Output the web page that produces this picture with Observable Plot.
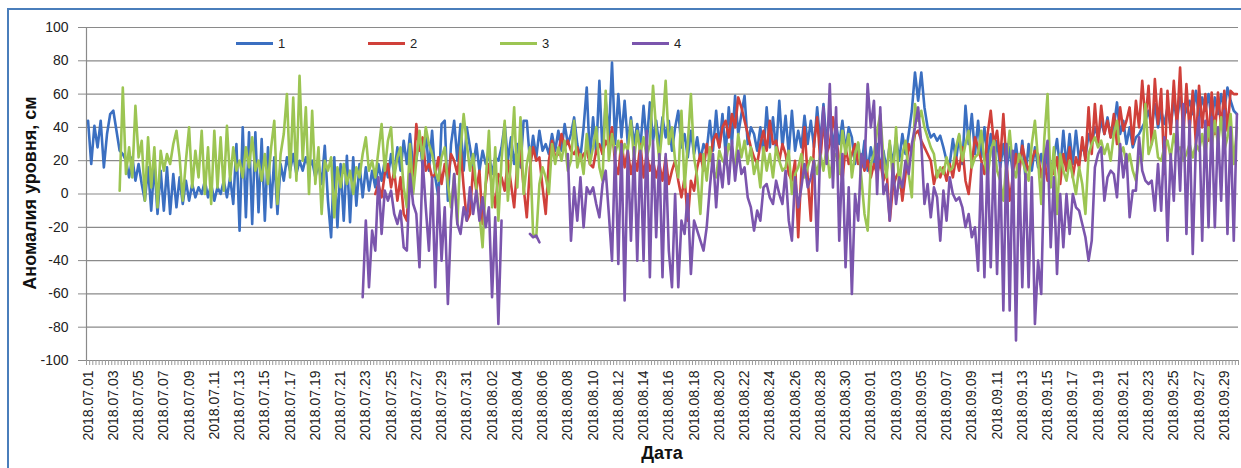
<!DOCTYPE html>
<html>
<head>
<meta charset="utf-8">
<script src="https://cdn.jsdelivr.net/npm/d3@7"></script>
<script src="https://cdn.jsdelivr.net/npm/@observablehq/plot@0.6"></script>
<style>
  html, body { margin: 0; padding: 0; background: #fff; }
  #wrap { position: relative; width: 1241px; height: 468px; overflow: hidden; font-family: "Liberation Sans", Arial, sans-serif; background: #fff; }
  #wrap svg { position: absolute; left: 0; top: 0; }
  #frame { position: absolute; left: 7px; top: 8px; width: 1260px; height: 480px; border: 2px solid #4a7ebb; box-sizing: border-box; pointer-events: none; }
  #legend { position: absolute; left: 236px; top: 35px; display: flex; }
  .item { width: 132px; display: flex; align-items: center; height: 16px; }
  .swatch { width: 37px; height: 3px; margin-right: 5px; }
  .lab { font-size: 13px; color: #222; }
  #ytitle { position: absolute; left: 30px; top: 193px; transform: translate(-50%, -50%) rotate(-90deg); font-weight: bold; font-size: 18px; white-space: nowrap; color: #111; }
  #xtitle { position: absolute; left: 662px; top: 444px; transform: translateX(-50%); font-weight: bold; font-size: 18px; line-height: 1; color: #111; }
</style>
</head>
<body>
<div id="wrap">
  <div id="chart"></div>
  <div id="legend"></div>
  <div id="ytitle">Аномалия уровня, см</div>
  <div id="xtitle">Дата</div>
  <div id="frame"></div>
</div>
<script>
// ---- data (6-hourly anomalies, cm) ----
const seriesNames = ["1", "2", "3", "4"];
const seriesColors = ["#3b6fc1", "#d0403a", "#9cc553", "#7b55ad"];
const stepHours = 6;
const start1 = "2018-07-01T00:00Z";
const start2 = "2018-07-23T18:00Z";
const start3 = "2018-07-03T12:00Z";
const start4 = "2018-07-22T18:00Z";

const s1 = [
44,18,41,28,44,16,36,48,50,38,
26,24,20,10,22,8,18,6,-4,16,
-10,18,-12,14,-10,16,-12,12,-8,10,
-6,8,-4,6,-2,4,0,8,-2,6,
-4,4,0,8,-2,10,-6,30,-22,40,
-14,37,-18,37,-11,33,-16,28,-8,22,
-12,18,8,22,14,24,12,20,14,22,
16,20,10,18,6,29,-4,-26,22,-20,
18,-16,23,-17,22,-7,18,-2,16,2,
14,4,18,8,20,10,24,12,28,14,
32,18,36,16,20,36,16,38,14,38,
10,-2,42,44,-4,30,44,20,42,14,
40,28,16,30,14,26,18,24,12,22,
20,28,42,20,34,18,30,16,44,44,
20,35,22,38,26,30,24,36,26,38,
26,42,30,36,46,30,22,40,64,20,
46,24,68,24,56,34,79,30,60,34,
56,30,46,30,42,28,53,30,55,32,
44,28,46,34,44,26,40,50,28,36,
22,38,24,34,20,30,26,44,26,50,
28,48,24,52,30,59,36,48,59,30,
40,36,26,40,24,52,28,46,26,56,
28,47,24,50,26,38,28,47,30,44,
28,52,30,54,30,50,28,42,30,44,
26,40,34,18,30,16,32,14,28,18,
30,16,26,14,30,18,34,20,36,24,
36,50,73,56,73,52,40,34,36,32,
35,28,20,18,33,20,35,18,53,30,
48,24,44,22,40,20,36,18,32,16,
30,14,28,12,30,14,32,10,30,14,
28,16,24,12,28,14,22,33,14,38,
16,36,18,38,20,30,22,36,30,40,
34,44,36,46,34,40,55,36,44,30,
40,28,34,36,40,44,50,40,54,40,
50,42,52,40,56,44,58,46,50,56,
48,62,46,58,50,60,44,58,48,60,
50,64,56,50,48
];

const s2 = [
0,6,-2,12,18,4,14,-4,10,-12,
-16,20,8,42,26,34,14,18,10,12,
22,6,18,8,24,20,12,28,4,-16,
-12,16,2,14,-18,6,18,4,-8,12,
10,2,20,6,-8,18,26,4,-14,16,
28,20,22,4,-12,20,32,22,24,36,
28,32,26,24,28,20,24,26,18,16,
26,30,24,32,28,40,18,12,32,16,
26,12,22,14,30,10,24,14,20,10,
18,8,22,6,14,20,8,-2,10,-16,
8,2,16,24,14,30,20,32,36,28,
40,44,34,48,40,58,52,44,36,28,
22,18,30,38,26,44,30,32,20,30,
24,12,8,20,-26,14,40,10,-16,30,
46,20,44,24,30,46,34,20,8,28,
18,24,30,18,22,14,20,10,18,12,
20,8,14,-16,4,10,14,-4,12,30,
24,36,38,32,28,24,20,6,14,10,
16,8,18,10,22,14,28,8,0,18,
34,28,20,12,36,50,30,38,20,48,
18,-4,10,24,12,29,20,14,20,26,
24,10,20,8,18,12,22,6,24,14,
28,10,22,16,34,20,52,24,54,30,
53,36,44,34,48,30,52,38,44,52,
30,56,40,68,44,65,30,69,42,63,
12,62,36,68,40,76,34,66,38,62,
30,65,40,60,32,61,36,61,40,62,
38,62,60,60
];

const s3 = [
2,64,12,28,10,53,22,32,-4,34,
4,28,-8,26,14,24,18,30,38,22,
-4,20,40,4,26,10,38,0,28,-6,
38,4,34,2,41,8,28,14,20,10,
28,16,34,14,20,8,24,6,28,44,
-6,24,36,60,10,58,8,71,20,52,
0,50,6,28,-12,20,14,22,-14,16,
4,18,6,14,0,16,10,24,34,14,
20,10,26,42,14,32,40,10,22,28,
4,-8,30,0,20,38,20,40,30,24,
14,8,22,28,6,-8,12,-18,26,48,
30,14,24,4,-12,-32,8,38,-8,28,
-16,20,44,-4,20,52,4,46,0,18,
28,-24,-26,6,16,10,0,30,18,28,
20,32,14,20,44,16,24,12,36,18,
28,40,16,8,62,20,36,24,32,22,
30,26,44,20,38,24,34,22,30,65,
38,20,40,68,30,40,20,10,50,4,
30,60,22,10,-12,24,8,28,14,10,
26,20,18,30,24,16,36,22,32,18,
28,12,20,4,28,14,24,10,28,20,
14,16,26,0,12,16,24,10,16,22,
20,12,24,14,28,10,22,24,12,38,
24,36,10,24,31,10,-12,-22,18,24,
38,48,22,10,32,8,40,4,24,32,
12,-2,54,44,50,40,34,28,24,10,
16,12,22,14,16,28,36,20,30,38,
16,22,24,38,20,10,26,32,14,8,
-4,20,38,16,10,24,20,14,8,30,
44,20,-6,34,60,4,28,-12,24,14,
8,20,10,0,16,6,-12,24,30,34,
28,32,24,30,20,36,44,24,28,18,
24,14,8,22,20,54,24,30,38,22,
20,28,32,22,36,26,28,20,24,30,
22,30,26,36,24,40,28,44,30,46,
26,34,48,18,40
];

const s4 = [
-62,-16,-56,-22,-34,10,-24,2,-4,2,
-12,-18,-10,-32,-34,12,-6,-12,-44,20,
-8,-34,10,-56,4,-40,-8,-66,-16,12,
-18,-24,-8,-16,4,-12,2,-16,-2,-20,
-8,-62,-14,-78,-16,null,null,null,null,null,
null,null,null,-24,-26,-25,-29,null,null,null,
null,null,null,null,null,24,-28,4,-16,10,
-20,4,0,4,-6,-14,6,14,-12,-40,
28,-42,30,-64,26,-28,28,-40,26,-40,
38,-50,32,-26,24,-50,24,-34,-56,0,
-56,-16,-24,0,-48,-16,-22,-28,-34,-20,
4,24,-8,20,4,28,6,32,8,26,
12,16,-2,-8,-22,-10,-16,4,6,-2,
-6,8,0,-6,14,-16,-28,10,-8,4,
18,4,10,20,-34,28,52,18,66,4,
52,-28,24,-44,4,-60,0,-16,24,16,
66,40,56,0,52,0,6,-16,18,-6,
10,4,20,12,30,40,52,30,-6,6,
-14,4,-2,-28,2,-16,10,0,-4,-2,
-8,-20,-12,-26,-20,-46,18,-50,24,-44,
28,-48,18,-70,30,-70,26,-88,18,-56,
12,-56,10,-78,-40,-60,20,32,-32,10,
-48,0,-32,0,-24,0,-8,-10,-18,-26,
-40,-28,16,24,28,-4,10,14,12,-2,
30,10,24,-14,2,2,34,14,8,6,
8,-10,18,-10,34,-28,24,-4,44,2,
54,-24,44,-36,30,46,-28,44,-20,46,
-20,40,-4,50,-24,40,-28,48
];

const yTicks = [-100, -80, -60, -40, -20, 0, 20, 40, 60, 80, 100];
const firstLabelDate = "2018-07-01T00:00Z";
const lastLabelDate = "2018-09-29T00:00Z";
const labelFormat = "%Y.%m.%d";

// ---- build tables ----
const stepMs = stepHours * 3600e3;
function rows(values, start, name) {
  const t0 = +new Date(start);
  return values.map((v, k) => ({ date: new Date(t0 + k * stepMs), value: v, series: name }));
}
const allSeries = [
  rows(s1, start1, seriesNames[0]),
  rows(s2, start2, seriesNames[1]),
  rows(s3, start3, seriesNames[2]),
  rows(s4, start4, seriesNames[3])
];
const allDates = allSeries.flat().map(d => +d.date);
const xMin = new Date(d3.min(allDates) - stepMs / 2);
const xMax = new Date(d3.max(allDates) + stepMs / 2);
const tickDates = d3.utcDay.range(new Date(firstLabelDate), new Date(+new Date(lastLabelDate) + 1), 2);
const minorDates = d3.range(+xMin, +xMax + 1, stepMs).map(t => new Date(t));
const fmt = d3.utcFormat(labelFormat);

const chart = Plot.plot({
  width: 1241,
  height: 468,
  marginLeft: 86,
  marginRight: 3,
  marginTop: 27,
  marginBottom: 108,
  style: { fontFamily: "Liberation Sans, Arial, sans-serif", background: "transparent", color: "#222" },
  x: { type: "utc", domain: [xMin, xMax] },
  y: { domain: [-100, 100] },
  marks: [
    Plot.gridY(yTicks, { stroke: "#8a8a8a", strokeOpacity: 1, strokeWidth: 1.2 }),
    Plot.ruleX([xMin], { stroke: "#8a8a8a", strokeWidth: 1.2 }),
    Plot.axisY(yTicks, { anchor: "left", tickSize: 8, tickPadding: 10, stroke: "#8a8a8a", fontSize: 14, label: null, fill: "#222", tickFormat: d => String(d) }),
    Plot.axisX(minorDates, { anchor: "bottom", tickSize: 5, tickFormat: () => "", stroke: "#9a9a9a", label: null }),
    Plot.axisX(tickDates, { anchor: "bottom", tickSize: 0, tickPadding: 10, tickRotate: -90, tickFormat: fmt, fontSize: 14, label: null, fill: "#222" }),
    ...allSeries.map((data, i) => Plot.line(data, { x: "date", y: "value", stroke: seriesColors[i], strokeWidth: 2.6, strokeLinejoin: "round" }))
  ]
});
document.getElementById("chart").appendChild(chart);

// legend
const legend = document.getElementById("legend");
seriesNames.forEach((n, i) => {
  const item = document.createElement("div");
  item.className = "item";
  item.innerHTML = `<div class="swatch" style="background:${seriesColors[i]}"></div><span class="lab">${n}</span>`;
  legend.appendChild(item);
});
</script>
</body>
</html>
